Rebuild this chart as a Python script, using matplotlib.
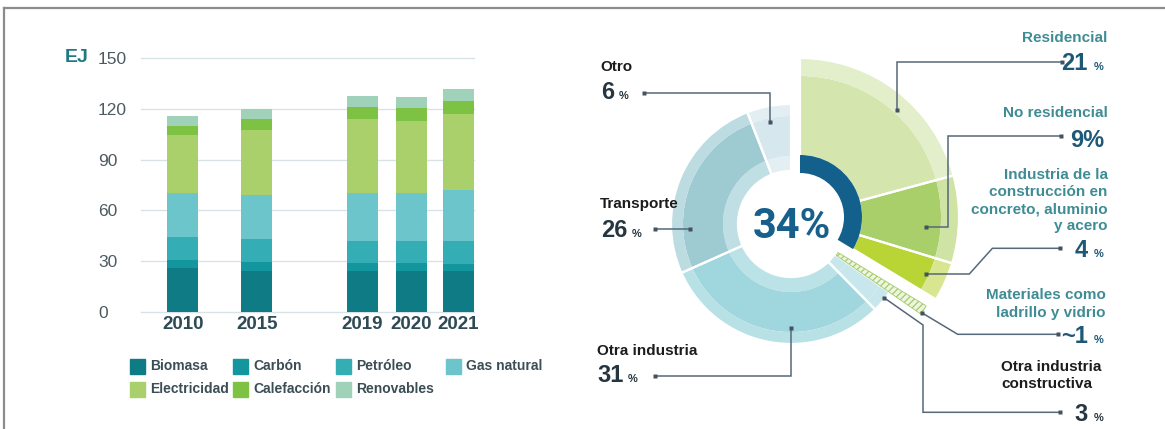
import matplotlib.pyplot as plt
from matplotlib.patches import Rectangle
from matplotlib.lines import Line2D

plt.rcParams['font.family'] = ['Liberation Sans', 'DejaVu Sans']
plt.rcParams['hatch.linewidth'] = 0.9

W, H = 1165, 429

# final energy use by source, EJ
years = ['2010', '2015', '2019', '2020', '2021']
biomasa = [26.0, 24.5, 24.1, 24.1, 24.1]
carbon = [4.8, 4.9, 5.1, 5.1, 4.5]
petroleo = [13.7, 13.7, 12.6, 12.6, 13.6]
gas_natural = [25.9, 25.7, 28.4, 28.4, 29.6]
electricidad = [34.3, 38.5, 43.7, 42.7, 45.4]
calefaccion = [5.3, 6.8, 6.9, 7.3, 7.3]
renovables = [5.9, 5.9, 6.8, 6.5, 6.9]

fuentes = ['Biomasa', 'Carbón', 'Petróleo', 'Gas natural',
           'Electricidad', 'Calefacción', 'Renovables']
fuente_vals = [biomasa, carbon, petroleo, gas_natural,
               electricidad, calefaccion, renovables]
fuente_cols = ['#0f7c85', '#14969f', '#34adb5', '#6cc5cb',
               '#a9d06b', '#7ec244', '#a0d2b9']

# emissions share by sector, %
sectores = ['Otro', 'Transporte', 'Otra industria', 'Otra industria\nconstructiva',
            'Materiales como\nladrillo y vidrio',
            'Industria de la\nconstrucción en\nconcreto, aluminio\ny acero',
            'No residencial', 'Residencial']
shares = [6, 26, 31, 3, 1, 4, 9, 21]
share_txt = ['6', '26', '31', '3', '~1', '4', '9', '21']
edificios = [5, 6, 7]   # building-related sectors

fig = plt.figure(figsize=(W / 100, H / 100), dpi=100)

# ---------- donut (axes in pixel units, y up) ----------
dax = fig.add_axes([0, 0, 1, 1])
CL = (791, H - 224)   # main ring
CR = (800, H - 217)   # exploded building slices
NO = 'none'


def ring(center, r_out, width, fill, lw=0, ec=NO, vals=shares):
    wedges, _ = dax.pie(vals, radius=r_out, center=center, startangle=90,
                        colors=fill, normalize=True,
                        wedgeprops=dict(width=width, linewidth=lw, edgecolor=ec))
    return wedges


ring(CL, 68, 15, ['#e3eff3', '#c0dfe4', '#bbe2e7', '#c8e7ec', NO, NO, NO, NO])
ring(CL, 108, 40, ['#d6e8ee', '#9ecbd2', '#a0d7de', '#c8e7ec', NO, NO, NO, NO])
ring(CL, 120, 12, ['#e2eef2', '#bcdce1', '#b8e1e6', '#c8e7ec', NO, NO, NO, NO])
for i, w in enumerate(ring(CL, 120, 67, [NO] * 8, lw=1.6, ec='white')):
    if i > 3:
        w.set_edgecolor(NO)

hatched = ring(CL, 158, 103, [NO] * 4 + ['#eef6dd'] + [NO] * 3)
hatched[4].set_hatch('/////')
hatched[4].set_edgecolor('#a3ca6e')
hatched[4].set_linewidth(0.6)

ring(CR, 141, 80, [NO] * 5 + ['#b8d435', '#a9cf6b', '#d4e5ad'])
ring(CR, 159, 18, [NO] * 5 + ['#d8e78f', '#cee3a4', '#e3eecb'])
for i, w in enumerate(ring(CR, 159, 98, [NO] * 8, lw=1.6, ec='white')):
    if i not in edificios:
        w.set_edgecolor(NO)

# one continuous arc for the building total
total = sum(shares[i] for i in edificios)
ring(CR, 62, 18, [NO, '#14608c'], vals=[sum(shares) - total, total])

dax.set_xlim(0, W)
dax.set_ylim(0, H)
dax.set_aspect('equal')
dax.axis('off')

dax.text(792, H - 226, f'{total}%', ha='center', va='center', fontsize=30,
         fontweight='bold', color='#17608b', family=['Roboto', 'DejaVu Sans'])

LINE = '#56687a'


def leader(pts):
    xs = [p[0] for p in pts]
    ys = [H - p[1] for p in pts]
    dax.plot(xs, ys, color=LINE, lw=1.1, solid_joinstyle='miter')
    dax.plot([xs[0], xs[-1]], [ys[0], ys[-1]], 's', ms=3.2, color='#44525f', mec='none')


leader([(644, 92.5), (770, 92.5), (770, 121.7)])
leader([(655, 228.5), (689.5, 228.5)])
leader([(655, 375.7), (791, 375.7), (791, 327.7)])
leader([(1062, 61.7), (897, 61.7), (897, 110)])
leader([(1061, 136), (948, 136), (948, 226.7), (925.7, 226.7)])
leader([(1060, 248.3), (992.4, 248.3), (969.3, 274), (925.7, 274)])
leader([(1058, 334.3), (957.7, 334.3), (921.7, 312.7)])
leader([(1060, 412.3), (923, 412.3), (923, 325), (884, 297.7)])

TEAL = '#3f8c94'
BLUE = '#1e5877'
DARK = '#1c1c1c'
NUM_DARK = '#263640'
NUM_FS = 17
PCT_FS = 8
CAP = 0.716 * NUM_FS * 100 / 72 / 2


def num_left(x, y, i):
    base = H - (y + CAP)
    t = dax.text(x, base, share_txt[i], ha='left', va='baseline', fontsize=NUM_FS,
                 fontweight='bold', color=NUM_DARK)
    dax.annotate('%', xy=(1, base), xycoords=(t, 'data'), xytext=(3.5, 0),
                 textcoords='offset points', ha='left', va='baseline',
                 fontsize=PCT_FS, fontweight='bold', color=NUM_DARK)


def num_right(x, y, i, color, small=True):
    base = H - (y + CAP)
    if not small:
        dax.text(x, base, share_txt[i] + '%', ha='right', va='baseline',
                 fontsize=NUM_FS, fontweight='bold', color=color)
        return
    p = dax.text(x, base, '%', ha='right', va='baseline', fontsize=PCT_FS,
                 fontweight='bold', color=color)
    dax.annotate(share_txt[i], xy=(0, base), xycoords=(p, 'data'), xytext=(-4.5, 0),
                 textcoords='offset points', ha='right', va='baseline',
                 fontsize=NUM_FS, fontweight='bold', color=color)


LBL_FS = 11
# left side labels
dax.text(600, H - 66.7, sectores[0], ha='left', va='center', fontsize=LBL_FS,
         fontweight='bold', color=DARK)
num_left(601, 90.7, 0)
dax.text(600, H - 204, sectores[1], ha='left', va='center', fontsize=LBL_FS,
         fontweight='bold', color=DARK)
num_left(601, 228.7, 1)
dax.text(597, H - 350.7, sectores[2], ha='left', va='center', fontsize=LBL_FS,
         fontweight='bold', color=DARK)
num_left(597, 373.3, 2)

# right side labels
dax.text(1107.5, H - 37.7, sectores[7], ha='right', va='center', fontsize=LBL_FS,
         fontweight='bold', color=TEAL)
num_right(1104, 61.7, 7, BLUE)
dax.text(1107.5, H - 113.3, sectores[6], ha='right', va='center', fontsize=LBL_FS,
         fontweight='bold', color=TEAL)
num_right(1104, 138.3, 6, BLUE, small=False)
dax.text(1107.5, H - 200.7, sectores[5], ha='right', va='center', fontsize=LBL_FS,
         fontweight='bold', color=TEAL, linespacing=1.28)
num_right(1104, 248.3, 5, BLUE)
dax.text(1106, H - 304, sectores[4], ha='right', va='center', fontsize=LBL_FS,
         fontweight='bold', color=TEAL, linespacing=1.28)
num_right(1104, 334.3, 4, BLUE)
dax.text(1001, H - 375.5, sectores[3], ha='left', va='center', fontsize=LBL_FS,
         fontweight='bold', color=DARK, linespacing=1.25)
num_right(1104, 412.5, 3, NUM_DARK)

# ---------- stacked bars ----------
ax = fig.add_axes([141 / W, (H - 312) / H, 333 / W, 254 / H])
ax.patch.set_alpha(0)
pos = [0, 1.53, 3.7, 4.71, 5.68]
bottom = [0] * len(years)
for name, vals, col in zip(fuentes, fuente_vals, fuente_cols):
    ax.bar(pos, vals, width=0.64, bottom=bottom, color=col, linewidth=0, label=name)
    bottom = [b + v for b, v in zip(bottom, vals)]

ax.set_xlim(-0.86, 6.006)
ax.set_ylim(0, 150)
ax.set_yticks([0, 30, 60, 90, 120, 150])
ax.yaxis.grid(True, color='#d8e3e7', lw=1)
for gl in ax.get_ygridlines():
    gl.set_clip_on(False)
ax.set_axisbelow(True)
for s in ax.spines.values():
    s.set_visible(False)
ax.set_xticks(pos, years)
ax.tick_params(axis='y', length=0, pad=31, labelsize=12.5, labelcolor='#4d5b61')
for lab in ax.get_yticklabels():
    lab.set_horizontalalignment('left')
ax.tick_params(axis='x', length=0, pad=3, labelsize=13.5, labelcolor='#2e4b55')
for lab in ax.get_xticklabels():
    lab.set_fontweight('bold')

fig.text(65 / W, (H - 58) / H, 'EJ', ha='left', va='center', fontsize=14,
         fontweight='bold', color='#1d7a82')

# legend, drawn by hand in two rows
leg_x = [129.6, 233, 336, 446]
leg_y = [366, 389]
for i, (name, col) in enumerate(zip(fuentes, fuente_cols)):
    r, c = divmod(i, 4)
    x0, yc = leg_x[c], leg_y[r]
    fig.patches.append(Rectangle((x0 / W, (H - yc - 7.5) / H), 15 / W, 15 / H,
                                 transform=fig.transFigure, color=col, figure=fig))
    fig.text((x0 + 20.5) / W, (H - yc) / H, name, ha='left', va='center',
             fontsize=10, fontweight='bold', color='#3b4d55')

# outer frame (top and left edges)
fig.lines.append(Line2D([4 / W, 1], [(H - 8) / H] * 2, transform=fig.transFigure,
                        color='#8c8c8c', lw=1.6))
fig.lines.append(Line2D([4 / W] * 2, [0, (H - 8) / H], transform=fig.transFigure,
                        color='#8c8c8c', lw=1.6))

fig.savefig('out.png', dpi=100, facecolor='white')
